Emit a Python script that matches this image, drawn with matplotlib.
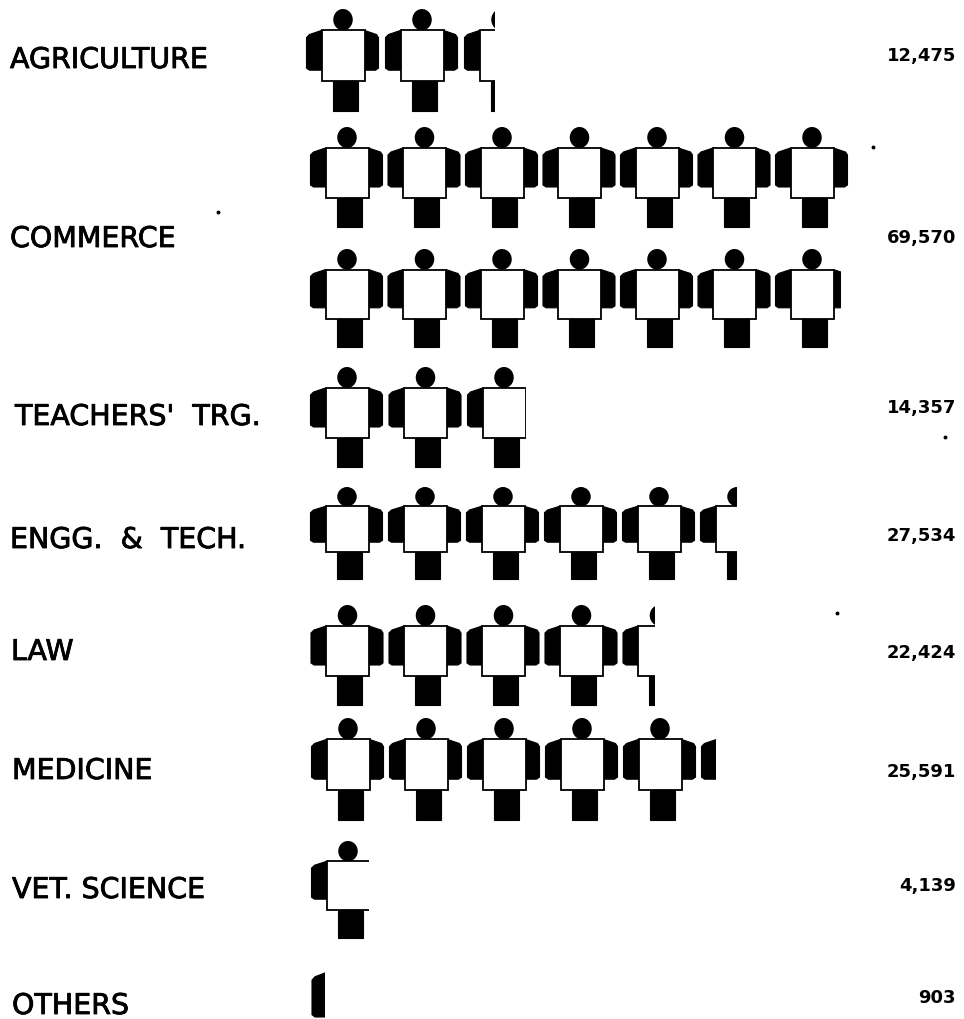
#!/usr/bin/env python3
"""Pictogram of enrolment by faculty, one figure per 5,000 students."""

import matplotlib
matplotlib.use("Agg")
import matplotlib.patheffects as pe
import matplotlib.pyplot as plt
from matplotlib.patches import Ellipse, Polygon, Rectangle

CATEGORIES = ["AGRICULTURE", "COMMERCE", "TEACHERS'  TRG.", "ENGG.  &  TECH.",
              "LAW", "MEDICINE", "VET. SCIENCE", "OTHERS"]
VALUES = [12475, 69570, 14357, 27534, 22424, 25591, 4139, 903]
VALUE_LABELS = ["12,475", "69,570", "14,357", "27,534", "22,424", "25,591", "4,139", "903"]
UNIT = 5000
PER_ROW = 7

# layout, pixels from the top left corner
ROW_TOPS = [[9], [127, 249], [367], [487], [605], [718], [841], [948]]
ROW_HEIGHTS = [[102], [100, 98], [100], [92], [100], [102], [97], [115]]
ROW_LEFTS = [306.5, 310.5, 310.5, 310.5, 311, 311.5, 311.5, 312]
PITCH = [79, 77.5, 78.5, 78, 78, 78, 78, 78]
LAST_WIDTH = [30, 65, 58.5, 36, 32, 14, 57.5, 13]  # how much of the last figure is left
LABEL_X = [10, 10, 15, 10, 11, 12, 12, 12]
LABEL_Y = [60, 239, 417, 540, 652, 771, 890, 1006]
NUMBER_Y = [56, 238, 408, 536, 653, 772, 886, 998]

# one figure, 100 units tall, relative to its left edge and the top of its head
LEFT_ARM = [(0, 28), (3, 25), (15, 21), (15, 60), (3, 60), (0, 58)]
RIGHT_ARM = [(58, 21), (70, 25), (72, 28), (72, 58), (69, 60), (58, 60)]
BODY = [(15, 21), (58, 21), (58, 71), (15, 71)]
LEGS = [(26, 71), (51, 71), (51, 100), (26, 100)]
HEAD = (36.5, 10.5, 19.5, 21)

# stray marks of the scan
SPECKS_X = [218, 873, 612, 945, 837]
SPECKS_Y = [212, 147, 522, 437, 613]


def shifted(points, x, y, scale):
    return [(x + px, y + py * scale) for px, py in points]


def draw_person(ax, x, y, height, width):
    scale = height / 100
    clip = Rectangle((x - 3, y - 3), width + 3, height + 6, transform=ax.transData)
    parts = [
        Polygon(shifted(LEFT_ARM, x, y, scale), fc="black", ec="black", lw=0.8),
        Polygon(shifted(RIGHT_ARM, x, y, scale), fc="black", ec="black", lw=0.8),
        Polygon(shifted(LEGS, x, y, scale), fc="black", ec="black", lw=0.8),
        Ellipse((x + HEAD[0], y + HEAD[1] * scale), HEAD[2], HEAD[3] * scale,
                fc="black", ec="none"),
        Polygon(shifted(BODY, x, y, scale), fc="white", ec="black", lw=1.3),
    ]
    for part in parts:
        ax.add_patch(part)
        part.set_clip_path(clip)


fig = plt.figure(figsize=(9.64, 10.19), dpi=100)
ax = fig.add_axes([0, 0, 1, 1])
ax.set_xlim(0, 964)
ax.set_ylim(1019, 0)
ax.axis("off")

for i, value in enumerate(VALUES):
    remaining = value / UNIT
    n = 0
    while remaining > 0:
        row, col = divmod(n, PER_ROW)
        width = 80 if remaining >= 1 else LAST_WIDTH[i]
        draw_person(ax, ROW_LEFTS[i] + col * PITCH[i], ROW_TOPS[i][row],
                    ROW_HEIGHTS[i][row], width)
        remaining -= 1
        n += 1
    ax.text(LABEL_X[i], LABEL_Y[i], CATEGORIES[i], fontsize=20.5, family="DejaVu Sans",
            va="center", ha="left",
            path_effects=[pe.withStroke(linewidth=0.6, foreground="black")])
    ax.text(956, NUMBER_Y[i], VALUE_LABELS[i], fontsize=13, family="DejaVu Sans",
            weight="bold", va="center", ha="right")

ax.plot(SPECKS_X, SPECKS_Y, "o", color="black", markersize=1.8)

fig.savefig("out.png", dpi=100)
